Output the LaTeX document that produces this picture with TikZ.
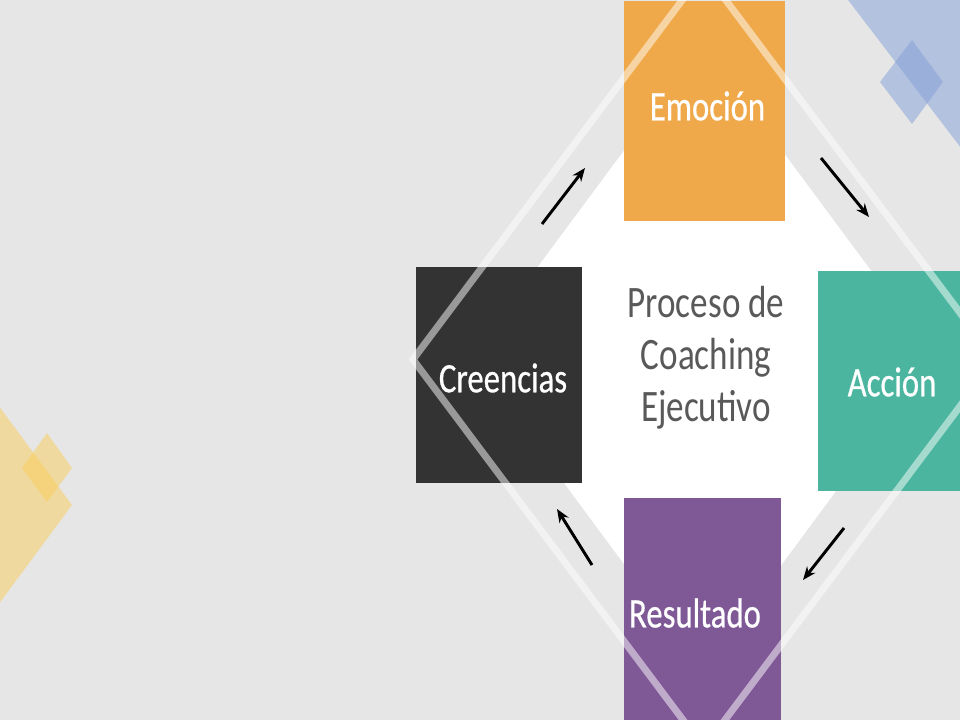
\documentclass[tikz,border=0pt]{standalone}
\usepackage{fontspec}
\setmainfont{Carlito}[BoldFont=Carlito, BoldFeatures={FakeBold=0.6}]
\usetikzlibrary{arrows.meta}

\definecolor{fondo}{RGB}{230,230,230}
\definecolor{amarillo}{RGB}{250,206,90}
\definecolor{azul}{RGB}{130,160,216}
\definecolor{naranja}{RGB}{240,169,74}
\definecolor{verde}{RGB}{75,181,160}
\definecolor{morado}{RGB}{127,88,150}
\definecolor{negro}{RGB}{51,51,51}
\definecolor{gristexto}{RGB}{89,89,89}

\newcommand{\angosto}[1]{\scalebox{0.78}[1]{#1}}

\tikzset{
  caja/.style={rectangle, inner sep=0pt},
  etiqueta/.style={text=white, inner sep=0pt, font=\fontsize{31.5}{36}\selectfont\bfseries},
  flecha/.style={-{Stealth[length=10pt,width=8pt]}, line width=2.2pt, black},
  rombo/.style={fill=#1, fill opacity=0.5},
}

\begin{document}
\begin{tikzpicture}[x=0.75pt,y=0.75pt,yscale=-1,xscale=1]
\clip (0,0) rectangle (960,720);

%Background
\fill[fondo] (0,0) rectangle (960,720);

%Shape: Diamond yellow
\fill[rombo=amarillo] (-50,340) -- (72,505) -- (-50,670) -- (-172,505) -- cycle ;
%Shape: Diamond yellow small
\fill[rombo=amarillo] (47,433) -- (72,468) -- (47,502) -- (22,468) -- cycle ;
%Shape: Diamond blue
\fill[rombo=azul] (1000,-325) -- (1200,-63) -- (1000,199) -- (800,-63) -- cycle ;
%Shape: Diamond blue small
\fill[rombo=azul] (912,40) -- (943,82) -- (912,124) -- (880,82) -- cycle ;

%Shape: Diamond white
\fill[white] (703,44) -- (935,357) -- (703,671) -- (471,357) -- cycle ;

%Boxes
\node[caja, fill=naranja, minimum width=120.75pt, minimum height=165pt] (emocion) at (704.5,111) {};
\node[caja, fill=negro, minimum width=124.5pt, minimum height=162pt] (creencias) at (499,375) {};
\node[caja, fill=verde, minimum width=120pt, minimum height=165pt] (accion) at (898,381) {};
\node[caja, fill=morado, minimum width=117.75pt, minimum height=166.5pt] (resultado) at (702.5,609) {};

%Shape: Diamond outline
\draw[white, draw opacity=0.5, line width=5.25pt] (704,-29) -- (995,359.5) -- (704,748) -- (413,359.5) -- cycle ;

%Labels
\node[etiqueta] (emocion-txt) at (707.5,106) {\angosto{Emoción}};
\node[etiqueta] (creencias-txt) at (503,378) {\angosto{Creencias}};
\node[etiqueta] (accion-txt) at (892,382) {\angosto{Acción}};
\node[etiqueta] (resultado-txt) at (695,613) {\angosto{Resultado}};

%Center text
\node[text=gristexto, align=center, font=\fontsize{33.75}{39}\selectfont] (proceso) at (706,358) {\angosto{Proceso de}\\\angosto{Coaching}\\\angosto{Ejecutivo}};

%Arrows
\coordinate (a1) at (542,224);
\coordinate (b1) at (585,168);
\coordinate (a2) at (821,158);
\coordinate (b2) at (869,217);
\coordinate (a3) at (844,528);
\coordinate (b3) at (803,580);
\coordinate (a4) at (592,565);
\coordinate (b4) at (557,509);
\draw[flecha] (a1) -- (b1) ;
\draw[flecha] (a2) -- (b2) ;
\draw[flecha] (a3) -- (b3) ;
\draw[flecha] (a4) -- (b4) ;

\end{tikzpicture}
\end{document}
